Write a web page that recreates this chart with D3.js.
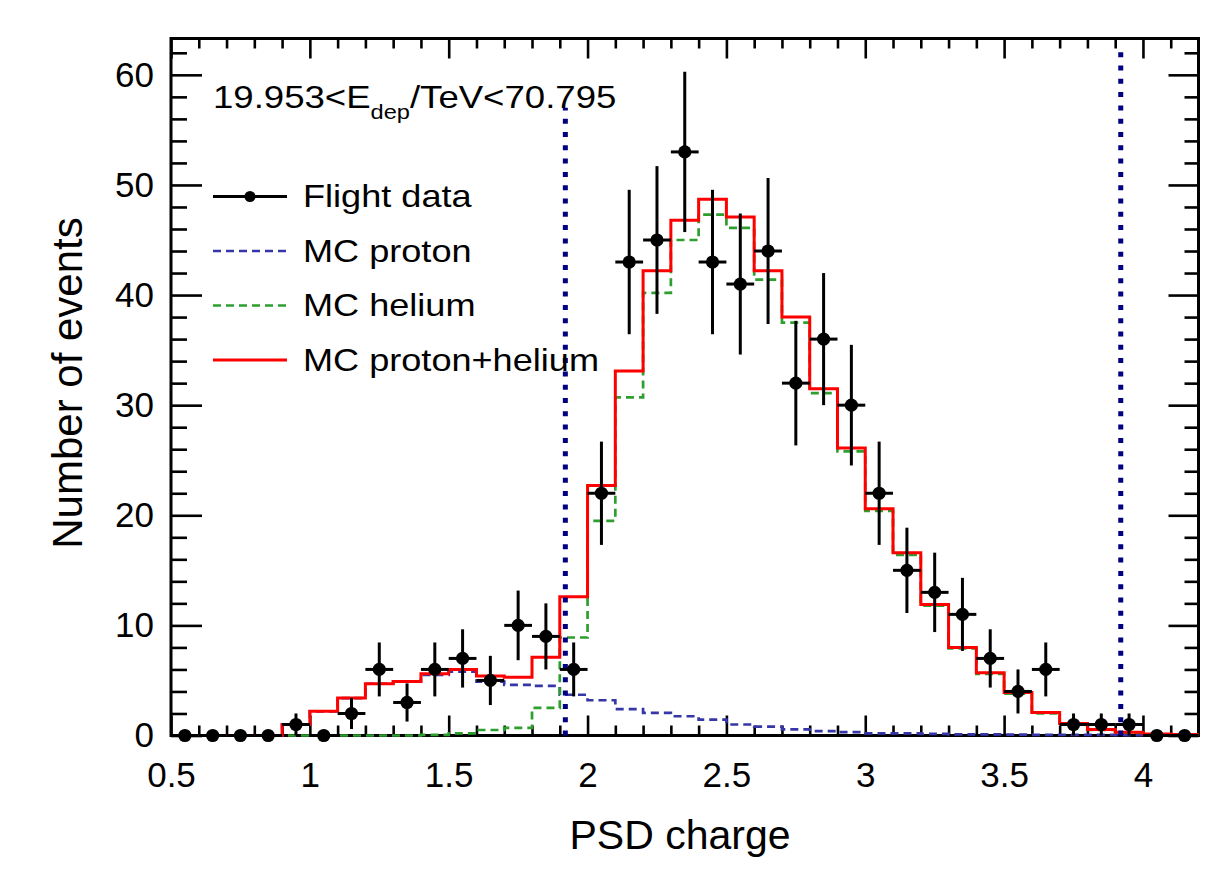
<!DOCTYPE html>
<html>
<head>
<meta charset="utf-8">
<script src="https://cdn.jsdelivr.net/npm/d3@7/dist/d3.min.js"></script>
<style>
  body { margin: 0; background: #ffffff; }
  text { font-family: "Liberation Sans", Arial, Helvetica, sans-serif; fill: #000; }
</style>
</head>
<body>
<svg id="chart" width="1228" height="879"></svg>
<script>
// PSD charge binning: low edges of the 0.1-wide bins
const binLow = [0.5, 0.6, 0.7, 0.8, 0.9, 1.0, 1.1, 1.2, 1.3, 1.4, 1.5, 1.6, 1.7, 1.8, 1.9,
                2.0, 2.1, 2.2, 2.3, 2.4, 2.5, 2.6, 2.7, 2.8, 2.9, 3.0, 3.1, 3.2, 3.3, 3.4,
                3.5, 3.6, 3.7, 3.8, 3.9, 4.0, 4.1];
const binWidth = 0.1;

// Flight data counts per bin
const flightCounts = [0, 0, 0, 0, 1, 0, 2, 6, 3, 6, 7, 5, 10, 9, 6,
                      22, 43, 45, 53, 43, 41, 44, 32, 36, 30, 22, 15, 13, 11, 7,
                      4, 6, 1, 1, 1, 0, 0];

// MC templates (normalised)
const mcProton = [0, 0, 0, 0, 1.0, 2.2, 3.4, 4.7, 4.9, 5.5, 5.8, 4.9, 4.6, 4.5, 3.7,
                  3.2, 2.4, 2.05, 1.75, 1.45, 1.0, 0.8, 0.55, 0.4, 0.3, 0.2, 0.2, 0.15, 0.1, 0.1,
                  0.08, 0.06, 0.05, 0.05, 0.04, 0.03, 0.02];
const mcHelium = [0, 0, 0, 0, 0, 0, 0, 0, 0, 0.05, 0.2, 0.5, 0.7, 2.5, 8.9,
                  19.5, 30.7, 40.2, 45.0, 47.3, 46.1, 41.4, 37.5, 31.1, 25.8, 20.4, 16.4, 11.8, 7.9, 5.6,
                  3.8, 2.0, 1.0, 0.5, 0.25, 0.1, 0.08];
const mcTotal = [0, 0, 0, 0, 1.0, 2.2, 3.4, 4.7, 4.9, 5.6, 6.0, 5.4, 5.3, 7.1, 12.6,
                 22.7, 33.1, 42.2, 46.8, 48.7, 47.1, 42.2, 38.0, 31.5, 26.1, 20.6, 16.6, 11.9, 8.0, 5.7,
                 3.9, 2.1, 1.1, 0.55, 0.3, 0.13, 0.1];

// Selection cut positions and the height the cut markers reach
const cutValues = [1.92, 3.92];
const cutHeights = [57.0, 62.2];

// Axis ticks
const xMajorTicks = [0.5, 1, 1.5, 2, 2.5, 3, 3.5, 4];
const xMinorTicks = [0.6, 0.7, 0.8, 0.9, 1.1, 1.2, 1.3, 1.4, 1.6, 1.7, 1.8, 1.9, 2.1, 2.2, 2.3, 2.4,
                     2.6, 2.7, 2.8, 2.9, 3.1, 3.2, 3.3, 3.4, 3.6, 3.7, 3.8, 3.9, 4.1];
const yMajorTicks = [0, 10, 20, 30, 40, 50, 60];
const yMinorTicks = [2, 4, 6, 8, 12, 14, 16, 18, 22, 24, 26, 28, 32, 34, 36, 38,
                     42, 44, 46, 48, 52, 54, 56, 58, 62];

const legendLabels = ["Flight data", "MC proton", "MC helium", "MC proton+helium"];

const svg = d3.select("#chart");
const frame = { left: 171, right: 1198.5, top: 38.5, bottom: 735.5 };

const x = d3.scaleLinear().domain([0.5, 4.2]).range([frame.left, frame.right]);
const y = d3.scaleLinear().domain([0, 63.3]).range([frame.bottom, frame.top]);

const colors = { proton: "#3636a8", helium: "#2e9e2e", total: "#ff0000", cut: "#000080" };

// ---------- axes (ticks inside the frame on all four sides) ----------
const fmt = d3.format("~g");
function styleAxis(g) {
  g.select(".domain").remove();
  g.selectAll(".tick line").attr("stroke", "#000").attr("stroke-width", 2.6);
}

// frame first, so the histograms sit on top of it
svg.append("rect")
  .attr("x", frame.left).attr("y", frame.top)
  .attr("width", frame.right - frame.left).attr("height", frame.bottom - frame.top)
  .attr("fill", "none").attr("stroke", "#000").attr("stroke-width", 3);

svg.append("g").attr("transform", `translate(0,${frame.bottom})`)
  .call(d3.axisBottom(x).tickValues(xMajorTicks).tickSize(-20).tickPadding(27).tickFormat(fmt))
  .call(styleAxis)
  .call(g => g.selectAll("text").attr("font-size", 35).attr("font-family", "Liberation Sans, Arial, sans-serif"));
svg.append("g").attr("transform", `translate(0,${frame.bottom})`)
  .call(d3.axisBottom(x).tickValues(xMinorTicks).tickSize(-10).tickFormat(""))
  .call(styleAxis);
svg.append("g").attr("transform", `translate(0,${frame.top})`)
  .call(d3.axisTop(x).tickValues(xMajorTicks).tickSize(-20).tickFormat(""))
  .call(styleAxis);
svg.append("g").attr("transform", `translate(0,${frame.top})`)
  .call(d3.axisTop(x).tickValues(xMinorTicks).tickSize(-10).tickFormat(""))
  .call(styleAxis);

svg.append("g").attr("transform", `translate(${frame.left},0)`)
  .call(d3.axisLeft(y).tickValues(yMajorTicks).tickSize(-31).tickPadding(17).tickFormat(fmt))
  .call(styleAxis)
  .call(g => g.selectAll("text").attr("font-size", 35).attr("font-family", "Liberation Sans, Arial, sans-serif"));
svg.append("g").attr("transform", `translate(${frame.left},0)`)
  .call(d3.axisLeft(y).tickValues(yMinorTicks).tickSize(-16).tickFormat(""))
  .call(styleAxis);
svg.append("g").attr("transform", `translate(${frame.right},0)`)
  .call(d3.axisRight(y).tickValues(yMajorTicks).tickSize(-30).tickFormat(""))
  .call(styleAxis);
svg.append("g").attr("transform", `translate(${frame.right},0)`)
  .call(d3.axisRight(y).tickValues(yMinorTicks).tickSize(-14).tickFormat(""))
  .call(styleAxis);

// ---------- histograms drawn as step outlines ----------
function stepPath(values) {
  const pts = [];
  values.forEach((v, i) => {
    pts.push([binLow[i], v]);
    pts.push([binLow[i] + binWidth, v]);
  });
  return d3.line().x(d => x(d[0])).y(d => y(d[1]))(pts);
}

const hist = svg.append("g");
hist.append("path").attr("d", stepPath(mcProton))
  .attr("fill", "none").attr("stroke", colors.proton).attr("stroke-width", 2.7)
  .attr("stroke-dasharray", "8,5");
hist.append("path").attr("d", stepPath(mcHelium))
  .attr("fill", "none").attr("stroke", colors.helium).attr("stroke-width", 2.7)
  .attr("stroke-dasharray", "8,5");
hist.append("path").attr("d", stepPath(mcTotal))
  .attr("fill", "none").attr("stroke", colors.total).attr("stroke-width", 3);

// ---------- cut lines ----------
svg.append("g").selectAll("line").data(cutValues).join("line")
  .attr("x1", d => x(d)).attr("x2", d => x(d))
  .attr("y1", y(0)).attr("y2", (d, i) => y(cutHeights[i]))
  .attr("stroke", colors.cut).attr("stroke-width", 5)
  .attr("stroke-dasharray", "5,8.3");

// ---------- flight data with Poisson errors ----------
const points = binLow.map((lo, i) => ({ c: lo + binWidth / 2, lo: lo, hi: lo + binWidth, n: flightCounts[i] }));
const dataG = svg.append("g");
dataG.selectAll("line.xerr").data(points).join("line").attr("class", "xerr")
  .attr("x1", d => x(d.lo)).attr("x2", d => x(d.hi))
  .attr("y1", d => y(d.n)).attr("y2", d => y(d.n))
  .attr("stroke", "#000").attr("stroke-width", 3);
dataG.selectAll("line.yerr").data(points.filter(d => d.n > 0)).join("line").attr("class", "yerr")
  .attr("x1", d => x(d.c)).attr("x2", d => x(d.c))
  .attr("y1", d => y(d.n - Math.sqrt(d.n))).attr("y2", d => y(d.n + Math.sqrt(d.n)))
  .attr("stroke", "#000").attr("stroke-width", 3);
dataG.selectAll("circle").data(points).join("circle")
  .attr("cx", d => x(d.c)).attr("cy", d => y(d.n)).attr("r", 6.6).attr("fill", "#000");

// ---------- axis titles ----------
svg.append("text").attr("x", 680).attr("y", 849)
  .attr("text-anchor", "middle").attr("font-size", 41).text("PSD charge");
svg.append("text").attr("transform", "translate(82,383) rotate(-90)")
  .attr("text-anchor", "middle").attr("font-size", 42).text("Number of events");

// ---------- energy range label ----------
const title = svg.append("g").attr("transform", "translate(213,108) scale(1.18,1)")
  .append("text").attr("font-size", 31);
title.append("tspan").text("19.953<E");
title.append("tspan").attr("font-size", 20).attr("dy", 11).text("dep");
title.append("tspan").attr("dy", -11).text("/TeV<70.795");

// ---------- legend ----------
const legendRows = [
  { label: legendLabels[0], kind: "data" },
  { label: legendLabels[1], kind: "proton" },
  { label: legendLabels[2], kind: "helium" },
  { label: legendLabels[3], kind: "total" }
];
const legend = svg.append("g");
legendRows.forEach((row, i) => {
  const cy = 196.5 + i * 54.5;
  const g = legend.append("g").attr("transform", `translate(0,${cy})`);
  if (row.kind === "data") {
    g.append("line").attr("x1", 213).attr("x2", 287).attr("y1", 0).attr("y2", 0)
      .attr("stroke", "#000").attr("stroke-width", 3);
    g.append("circle").attr("cx", 250).attr("cy", 0).attr("r", 5.5).attr("fill", "#000");
  } else {
    const dashed = row.kind !== "total";
    g.append("line").attr("x1", 213).attr("x2", 287).attr("y1", 0).attr("y2", 0)
      .attr("stroke", colors[row.kind]).attr("stroke-width", dashed ? 2.7 : 3)
      .attr("stroke-dasharray", dashed ? "8,5" : null);
  }
  g.append("g").attr("transform", "translate(303,10.5) scale(1.165,1)")
    .append("text").attr("font-size", 31).text(row.label);
});
</script>
</body>
</html>
